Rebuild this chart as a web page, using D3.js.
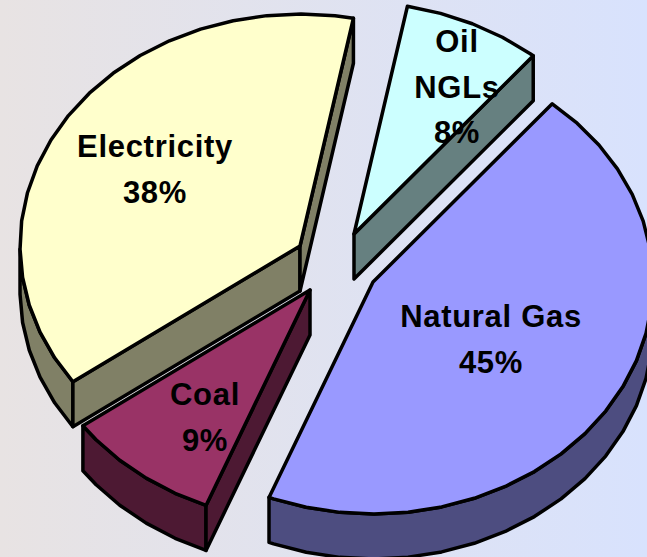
<!DOCTYPE html>
<html>
<head>
<meta charset="utf-8">
<script src="https://cdn.jsdelivr.net/npm/d3@7/dist/d3.min.js"></script>
<style>
  html, body { margin: 0; padding: 0; overflow: hidden; }
  svg { display: block; }
  text { font-family: "Liberation Sans", Arial, sans-serif; font-weight: bold; font-size: 31px; fill: #000; text-anchor: middle; letter-spacing: 0.7px; }
</style>
</head>
<body>
<div id="viz"></div>
<script>
// values, clockwise from the natural gas slice
var categories = ["Natural Gas", "Coal", "Electricity", "Oil NGLs"];
var values = [45, 9, 38, 8];
var labels = [["Natural Gas", "45%"], ["Coal", "9%"], ["Electricity", "38%"], ["Oil", "NGLs", "8%"]];

// look of each slice
var topColors = ["#9999ff", "#993366", "#ffffcc", "#ccffff"];
var wallColors = ["#4d4d80", "#4d1933", "#808066", "#668080"];
var apexes = [[373, 282], [310, 290], [300, 246], [354, 234]];
var labelSpots = [[491, 327], [205, 405], [155, 157], [457, 52]];

var width = 647, height = 557;
var rx = 280, ry = 232, depth = 45, lineHeight = 45.5;

var svg = d3.select("#viz").append("svg")
  .attr("width", width)
  .attr("height", height);

// background runs from warm grey to pale blue
var grad = svg.append("defs").append("linearGradient")
  .attr("id", "bg")
  .attr("x1", "0%").attr("x2", "100%").attr("y1", "0%").attr("y2", "0%");
grad.append("stop").attr("offset", "0%").attr("stop-color", "#e8e3e3");
grad.append("stop").attr("offset", "100%").attr("stop-color", "#d8e2fd");
svg.append("rect").attr("width", width).attr("height", height).attr("fill", "url(#bg)");

var pie = d3.pie()
  .sort(null)
  .startAngle(39.8 * Math.PI / 180)
  .endAngle((39.8 + 360) * Math.PI / 180);
var slices = pie(values);

var scaleX = d3.scaleLinear().domain([-1, 1]).range([-rx, rx]);
var scaleY = d3.scaleLinear().domain([-1, 1]).range([ry, -ry]);
var line = d3.line();

function spot(a, apex, drop) {
  return [apex[0] + scaleX(Math.sin(a)), apex[1] + scaleY(Math.cos(a)) + drop];
}

// angles along the rim, coarse on purpose so the edge stays a bit rough
function rimAngles(d) {
  var step = 7 * Math.PI / 180;
  return d3.range(d.startAngle, d.endAngle, step).concat([d.endAngle]);
}

// a straight side shows only if the slice lies above it
function sideShows(a, d, apex) {
  var e = spot(a, apex, 0);
  var m = spot((d.startAngle + d.endAngle) / 2, apex, 0);
  var ux = e[0] - apex[0], uy = e[1] - apex[1];
  var nx = -uy, ny = ux;
  if (nx * (m[0] - apex[0]) + ny * (m[1] - apex[1]) > 0) { ny = -ny; }
  return ny > 0;
}

// draw back to front: oil and electricity, then gas, then coal
var order = [3, 2, 0, 1];
order.forEach(function (i) {
  var d = slices[i], apex = apexes[i];
  var angles = rimAngles(d);
  var top = angles.map(function (a) { return spot(a, apex, 0); });
  var apexLow = [apex[0], apex[1] + depth];
  var g = svg.append("g")
    .attr("stroke", "#000")
    .attr("stroke-width", 3.5)
    .attr("stroke-linejoin", "round");

  // rim wall, front half of the ellipse only
  var front = angles.filter(function (a) { return Math.cos(a) <= 0; });
  if (front.length > 1) {
    var upper = front.map(function (a) { return spot(a, apex, 0); });
    var lower = front.map(function (a) { return spot(a, apex, depth); });
    g.append("path")
      .attr("d", line(upper.concat(lower.reverse())) + "Z")
      .attr("fill", wallColors[i]);
  }

  [d.startAngle, d.endAngle].forEach(function (a) {
    if (!sideShows(a, d, apex)) { return; }
    g.append("path")
      .attr("d", line([apex, spot(a, apex, 0), spot(a, apex, depth), apexLow]) + "Z")
      .attr("fill", wallColors[i]);
  });

  g.append("path")
    .attr("d", line([apex].concat(top)) + "Z")
    .attr("fill", topColors[i]);
});

// labels sit on top of everything
labels.forEach(function (rows, i) {
  var t = svg.append("text")
    .attr("class", "label")
    .attr("x", labelSpots[i][0])
    .attr("y", labelSpots[i][1]);
  rows.forEach(function (r, j) {
    t.append("tspan")
      .attr("x", labelSpots[i][0])
      .attr("dy", j === 0 ? 0 : lineHeight)
      .text(r);
  });
});
</script>
</body>
</html>
